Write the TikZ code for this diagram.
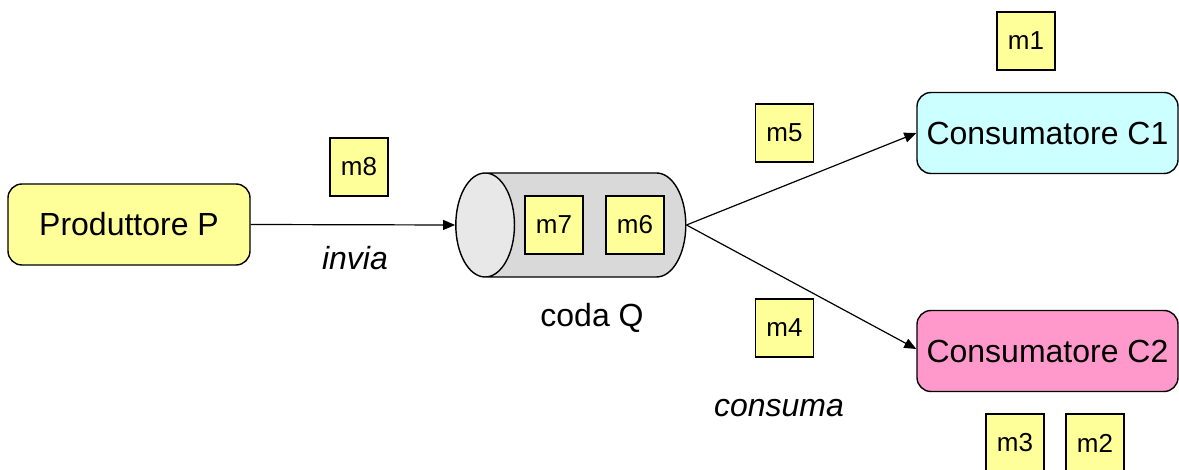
\documentclass[tikz,border=0pt]{standalone}
\usepackage{fontspec}
\setmainfont{Liberation Sans}
\usetikzlibrary{shapes.geometric,arrows.meta}
\definecolor{msgyellow}{HTML}{FFFF99}
\definecolor{consblue}{HTML}{CCFFFF}
\definecolor{conspink}{HTML}{FF99CC}
\definecolor{qgray}{HTML}{D9D9D9}
\definecolor{qlight}{HTML}{E8E8E8}
\begin{document}
\begin{tikzpicture}
[x=0.5pt,y=-0.5pt,
 box/.style={draw,rounded corners=7pt,line width=0.7pt,inner sep=0pt,minimum width=121pt,minimum height=40.5pt,font=\fontsize{16}{18}\selectfont},
 msg/.style={draw,fill=msgyellow,line width=0.6pt,inner sep=0pt,minimum size=29pt,font=\fontsize{13}{15}\selectfont},
 verb/.style={font=\fontsize{16}{18}\selectfont\itshape},
 link/.style={-{Triangle[length=6pt,width=5pt]},line width=0.6pt}]
  \useasboundingbox (0,0) rectangle (1179,470);

  \node[box,fill=msgyellow] (prod) at (129,224.5) {Produttore P};
  \node[box,fill=consblue,minimum width=130.5pt] (c1) at (1047.5,133) {Consumatore C1};
  \node[box,fill=conspink,minimum width=130.5pt] (c2) at (1047.5,351) {Consumatore C2};

  \node[cylinder,shape border rotate=180,draw,line width=0.7pt,aspect=4.4,
        minimum height=115pt,minimum width=52pt,
        cylinder uses custom fill,cylinder body fill=qgray,cylinder end fill=qlight] (coda) at (593,225) {};

  \node[msg] (m8) at (359,167) {m8};
  \node[msg] (m7) at (554,225) {m7};
  \node[msg] (m6) at (635,225) {m6};
  \node[msg] (m5) at (784.5,133) {m5};
  \node[msg] (m4) at (784.5,328) {m4};
  \node[msg] (m1) at (1026,41) {m1};
  \node[msg] (m3) at (1015,443) {m3};
  \node[msg] (m2) at (1095,443) {m2};

  \node[verb] (invia) at (355,258) {invia};
  \node[verb] (consuma) at (779,408) {consuma};
  \node[font=\fontsize{16}{18}\selectfont] (codaq) at (592,318) {coda Q};

  \draw[link] (prod.east) -- (coda.west);
  \draw[link] (coda.east) -- (c1.west);
  \draw[link] (coda.east) -- ([yshift=1pt]c2.west);
\end{tikzpicture}
\end{document}
